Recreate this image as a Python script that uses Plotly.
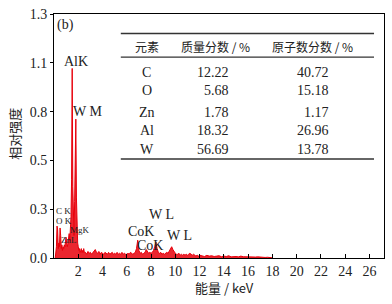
import plotly.graph_objects as go

# ---------------- data ----------------
energy_a = [0.10, 0.15, 0.20, 0.25, 0.30, 0.35, 0.40, 0.45, 0.50, 0.55, 0.60, 0.65, 0.70, 0.75,
            0.80, 0.85, 0.90, 0.95, 1.00, 1.05, 1.10, 1.15, 1.20, 1.25, 1.30, 1.35, 1.40, 1.45,
            1.50, 1.55, 1.60, 1.65, 1.70, 1.75, 1.80, 1.85, 1.90, 1.95, 2.00, 2.05, 2.10, 2.15,
            2.20, 2.25, 2.30, 2.35, 2.40, 2.45, 2.50]
intensity_a = [0.00, 0.02, 0.06, 0.17, 0.15, 0.05, 0.08, 0.06, 0.16, 0.12, 0.05, 0.07, 0.04, 0.06,
               0.05, 0.07, 0.06, 0.09, 0.11, 0.07, 0.06, 0.08, 0.10, 0.13, 0.09, 0.18, 0.22, 0.42,
               1.01, 0.38, 0.20, 0.12, 0.30, 0.45, 0.74, 0.32, 0.15, 0.08, 0.06, 0.04, 0.05, 0.03,
               0.04, 0.05, 0.03, 0.04, 0.03, 0.05, 0.03]

energy_b = [2.6, 2.7, 2.8, 2.9, 3.0, 3.1, 3.2, 3.3, 3.4, 3.5, 3.6, 3.7, 3.8, 3.9, 4.0, 4.1, 4.2,
            4.3, 4.4, 4.5, 4.6, 4.7, 4.8, 4.9, 5.0, 5.1, 5.2, 5.3, 5.4, 5.5, 5.6, 5.7, 5.8, 5.9,
            6.0, 6.1, 6.2, 6.3, 6.4, 6.5, 6.6, 6.7, 6.8, 6.9, 7.0, 7.1, 7.2, 7.3, 7.4, 7.5, 7.6,
            7.7, 7.8, 7.9, 8.0, 8.1, 8.2, 8.3, 8.4, 8.5, 8.6, 8.7, 8.8, 8.9, 9.0, 9.1, 9.2, 9.3,
            9.4, 9.5, 9.6, 9.7, 9.8, 9.9, 10.0, 10.1, 10.2, 10.3, 10.4, 10.5, 10.6, 10.7, 10.8,
            10.9, 11.0, 11.1, 11.2, 11.3, 11.4, 11.5, 11.6, 11.7, 11.8, 11.9, 12.0]
intensity_b = [0.030, 0.020, 0.035, 0.025, 0.030, 0.020, 0.030, 0.040, 0.045, 0.030, 0.025, 0.035,
               0.020, 0.030, 0.025, 0.020, 0.030, 0.025, 0.020, 0.030, 0.020, 0.025, 0.030, 0.020,
               0.025, 0.020, 0.030, 0.020, 0.025, 0.020, 0.030, 0.020, 0.025, 0.020, 0.020, 0.025,
               0.020, 0.030, 0.025, 0.020, 0.025, 0.030, 0.050, 0.095, 0.040, 0.025, 0.030, 0.020,
               0.025, 0.030, 0.045, 0.035, 0.025, 0.030, 0.025, 0.030, 0.040, 0.060, 0.085, 0.050,
               0.030, 0.025, 0.030, 0.020, 0.025, 0.020, 0.025, 0.030, 0.025, 0.035, 0.050, 0.060,
               0.045, 0.030, 0.025, 0.020, 0.020, 0.025, 0.015, 0.020, 0.015, 0.020, 0.015, 0.020,
               0.015, 0.020, 0.025, 0.020, 0.015, 0.020, 0.015, 0.010, 0.015, 0.010, 0.015]

energy_c = [12.2, 12.4, 12.6, 12.8, 13.0, 13.2, 13.4, 13.6, 13.8, 14.0, 14.2, 14.4, 14.6, 14.8,
            15.0, 15.2, 15.4, 15.6, 15.8, 16.0, 16.2, 16.4, 16.6, 16.8, 17.0, 17.2, 17.4, 17.6,
            17.8, 18.0]
intensity_c = [0.012, 0.008, 0.014, 0.010, 0.012, 0.008, 0.010, 0.012, 0.007, 0.010, 0.008, 0.012,
               0.006, 0.009, 0.008, 0.006, 0.010, 0.007, 0.006, 0.008, 0.005, 0.007, 0.005, 0.006,
               0.004, 0.005, 0.003, 0.004, 0.002, 0.001]

energy_kev = energy_a + energy_b + energy_c
intensity = intensity_a + intensity_b + intensity_c

x_tick_vals = [2, 4, 6, 8, 10, 12, 14, 16, 18, 20, 22, 24, 26]
y_tick_vals = [0.0, 0.26, 0.52, 0.78, 1.04, 1.30]
y_tick_text = ["0.0", "0.3", "0.5", "0.8", "1.1", "1.3"]

table_header = ["元素", "质量分数 / %", "原子数分数 / %"]
table_elements = ["C", "O", "Zn", "Al", "W"]
mass_pct = ["12.22", "5.68", "1.78", "18.32", "56.69"]
atomic_pct = ["40.72", "15.18", "1.17", "26.96", "13.78"]

peak_names = ["AlK", "W M", "C K", "O K", "MgK", "ZnL", "CoK", "CoK", "W L", "W L"]

# ---------------- layout helpers (pixel -> paper) ----------------
W, H = 392, 304
L, R, T, B = 54, 385, 9, 258


def px(x):
    return (x - L) / (R - L)


def py(y):
    return (B - y) / (B - T)


SERIF = "Liberation Serif, Times New Roman, serif"
CJK = "Noto Sans CJK SC, sans-serif"
INK = "#222222"

fig = go.Figure()
fig.add_trace(go.Scatter(
    x=energy_kev, y=intensity, mode="lines",
    line=dict(color="#e8000b", width=1),
    fill="tozeroy", fillcolor="rgba(232,0,11,0.85)",
    hoverinfo="skip", showlegend=False,
))

annotations = []

# panel label
annotations.append(dict(x=px(66), y=py(20), text="(b)", font=dict(family=SERIF, size=14, color=INK)))

# peak labels: (centre x px, centre y px, size)
peak_pos = [(76, 57, 14), (88, 108, 14), (64, 210, 9), (64, 220, 9), (80, 229, 9),
            (69, 240, 9), (141, 231, 14), (150, 245, 14), (162, 214, 14), (180, 235, 14)]
for name, (cx, cy, sz) in zip(peak_names, peak_pos):
    annotations.append(dict(x=px(cx), y=py(cy), text=name,
                            font=dict(family=SERIF, size=sz, color=INK)))

# table header
hdr_x = [147, 216, 313]
for t, cx in zip(table_header, hdr_x):
    annotations.append(dict(x=px(cx), y=py(42), text=t, font=dict(family=CJK, size=12, color=INK)))

row_y = [69, 87, 110, 128, 147]
for el, m, a, ry in zip(table_elements, mass_pct, atomic_pct, row_y):
    annotations.append(dict(x=px(147), y=py(ry), text=el, font=dict(family=SERIF, size=14, color=INK)))
    annotations.append(dict(x=px(232), y=py(ry), text=m, xanchor="right",
                            font=dict(family=SERIF, size=14, color=INK)))
    annotations.append(dict(x=px(332), y=py(ry), text=a, xanchor="right",
                            font=dict(family=SERIF, size=14, color=INK)))

# axis titles
annotations.append(dict(x=px(225), y=py(288), text="能量 / keV",
                        font=dict(family=CJK, size=13, color=INK)))
annotations.append(dict(x=px(14), y=py(131), text="相对强度", textangle=-90,
                        font=dict(family=CJK, size=13, color=INK)))

for a in annotations:
    a.update(xref="paper", yref="paper", showarrow=False)
    a.setdefault("xanchor", "center")
    a.setdefault("yanchor", "middle")

shapes = []
for ly, w in [(29, 1.5), (53, 1.2), (157, 1.5)]:
    shapes.append(dict(type="line", xref="paper", yref="paper",
                       x0=px(121), x1=px(375), y0=py(ly), y1=py(ly),
                       line=dict(color="#333333", width=w)))

fig.update_layout(
    width=W, height=H,
    margin=dict(l=L, r=W - R, t=T, b=H - B),
    paper_bgcolor="white", plot_bgcolor="white",
    annotations=annotations, shapes=shapes,
    xaxis=dict(range=[0, 27.2], tickvals=x_tick_vals, ticks="inside", ticklen=4,
               tickcolor="black", showline=True, linecolor="black", linewidth=1,
               mirror=True, showgrid=False, zeroline=False,
               tickfont=dict(family=SERIF, size=14, color=INK)),
    yaxis=dict(range=[0, 1.3], tickvals=y_tick_vals, ticktext=y_tick_text,
               ticks="outside", ticklen=3, tickcolor="black",
               showline=True, linecolor="black", linewidth=1, mirror=True,
               showgrid=False, zeroline=False,
               tickfont=dict(family=SERIF, size=14, color=INK)),
)

fig.write_html("out.html")
